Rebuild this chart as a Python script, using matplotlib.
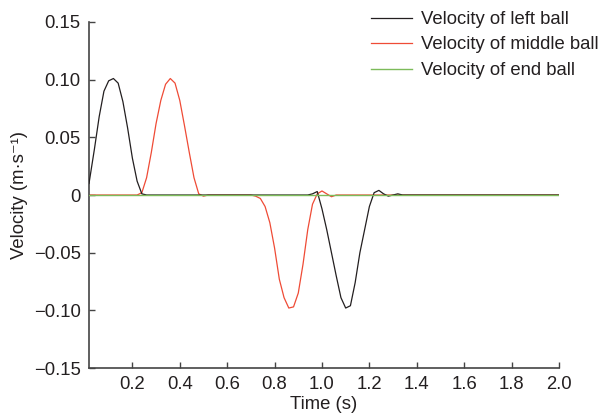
import matplotlib
matplotlib.use("Agg")
import matplotlib.pyplot as plt

plt.rcParams['font.family'] = ['Liberation Sans', 'DejaVu Sans']

# left ball
t_left = [0.017, 0.04, 0.06, 0.08, 0.10, 0.12, 0.14, 0.16, 0.18, 0.20, 0.22, 0.24, 0.26,
          0.40, 0.60, 0.80, 0.94, 0.96, 0.98, 1.00, 1.02, 1.04, 1.06, 1.08, 1.10, 1.12,
          1.14, 1.16, 1.18, 1.20, 1.22, 1.24, 1.26, 1.28, 1.30, 1.32, 1.34, 1.40, 1.60,
          1.80, 2.00]
v_left = [0.010, 0.040, 0.068, 0.090, 0.099, 0.101, 0.097, 0.081, 0.058, 0.032, 0.012, 0.001, 0.0,
          0.0, 0.0, 0.0, 0.0, 0.001, 0.003, -0.012, -0.030, -0.050, -0.070, -0.089, -0.098, -0.096,
          -0.076, -0.050, -0.030, -0.010, 0.002, 0.004, 0.001, -0.001, 0.0, 0.001, 0.0, 0.0, 0.0,
          0.0, 0.0]

# middle ball
t_mid = [0.017, 0.22, 0.24, 0.26, 0.28, 0.30, 0.32, 0.34, 0.36, 0.38, 0.40, 0.42, 0.44,
         0.46, 0.48, 0.50, 0.52, 0.60, 0.70, 0.72, 0.74, 0.76, 0.78, 0.80, 0.82, 0.84,
         0.86, 0.88, 0.90, 0.92, 0.94, 0.96, 0.98, 1.00, 1.02, 1.04, 1.06, 1.20, 1.40,
         1.60, 1.80, 1.90, 2.00]
v_mid = [0.0, 0.0, 0.002, 0.015, 0.037, 0.062, 0.082, 0.096, 0.101, 0.097, 0.082, 0.060, 0.037,
         0.015, 0.001, -0.001, 0.0, 0.0, 0.0, -0.001, -0.003, -0.010, -0.024, -0.046, -0.073, -0.089,
         -0.098, -0.097, -0.085, -0.060, -0.030, -0.008, 0.001, 0.0035, 0.001, -0.0015, 0.0, 0.0, 0.0,
         0.0, 0.0, 0.0, 0.0]

# end ball
t_end = [0.017, 0.5, 1.0, 1.5, 2.0]
v_end = [0.0, 0.0, 0.0, 0.0, 0.0]

labels = ['Velocity of left ball', 'Velocity of middle ball', 'Velocity of end ball']
colors = ['#231f20', '#ef4b36', '#7cbb5a']

fig = plt.figure(figsize=(6.03, 4.19), dpi=100)
ax = fig.add_axes([0.1476, 0.1217, 0.7794, 0.8258])

ax.plot(t_left, v_left, color=colors[0], lw=0.9, label=labels[0], zorder=3)
ax.plot(t_mid, v_mid, color=colors[1], lw=0.9, label=labels[1], zorder=2)
ax.plot(t_end, v_end, color=colors[2], lw=1.0, label=labels[2], zorder=4)

ax.set_xlim(0.017, 2.0)
ax.set_ylim(-0.15, 0.15)

xt = [0.2, 0.4, 0.6, 0.8, 1.0, 1.2, 1.4, 1.6, 1.8, 2.0]
ax.set_xticks(xt)
ax.set_xticklabels(['%.1f' % v for v in xt])
yt = [0.15, 0.10, 0.05, 0, -0.05, -0.10, -0.15]
ax.set_yticks(yt)
ax.set_yticklabels(['0.15', '0.10', '0.05', '0', '\u22120.05', '\u22120.10', '\u22120.15'])

for s in ['top', 'right']:
    ax.spines[s].set_visible(False)
for s in ['left', 'bottom']:
    ax.spines[s].set_color('#444444')
    ax.spines[s].set_linewidth(1.2)

ax.tick_params(direction='in', length=4.5, width=1.0, color='#444444',
               labelsize=13.3, labelcolor='#231f20', pad=6)

ax.set_xlabel('Time (s)', fontsize=13.3, color='#231f20', labelpad=2)
ax.set_ylabel('Velocity (m\u00b7s\u207b\u00b9)', fontsize=13.3, color='#231f20', labelpad=4)

ax.legend(loc='upper left', bbox_to_anchor=(371 / 603, 1 - 11 / 419),
          bbox_transform=fig.transFigure, frameon=False, fontsize=13.3,
          handlelength=2.2, handletextpad=0.5, labelspacing=0.46,
          borderpad=0, borderaxespad=0, labelcolor='#231f20')

fig.savefig('out.png', dpi=100)
